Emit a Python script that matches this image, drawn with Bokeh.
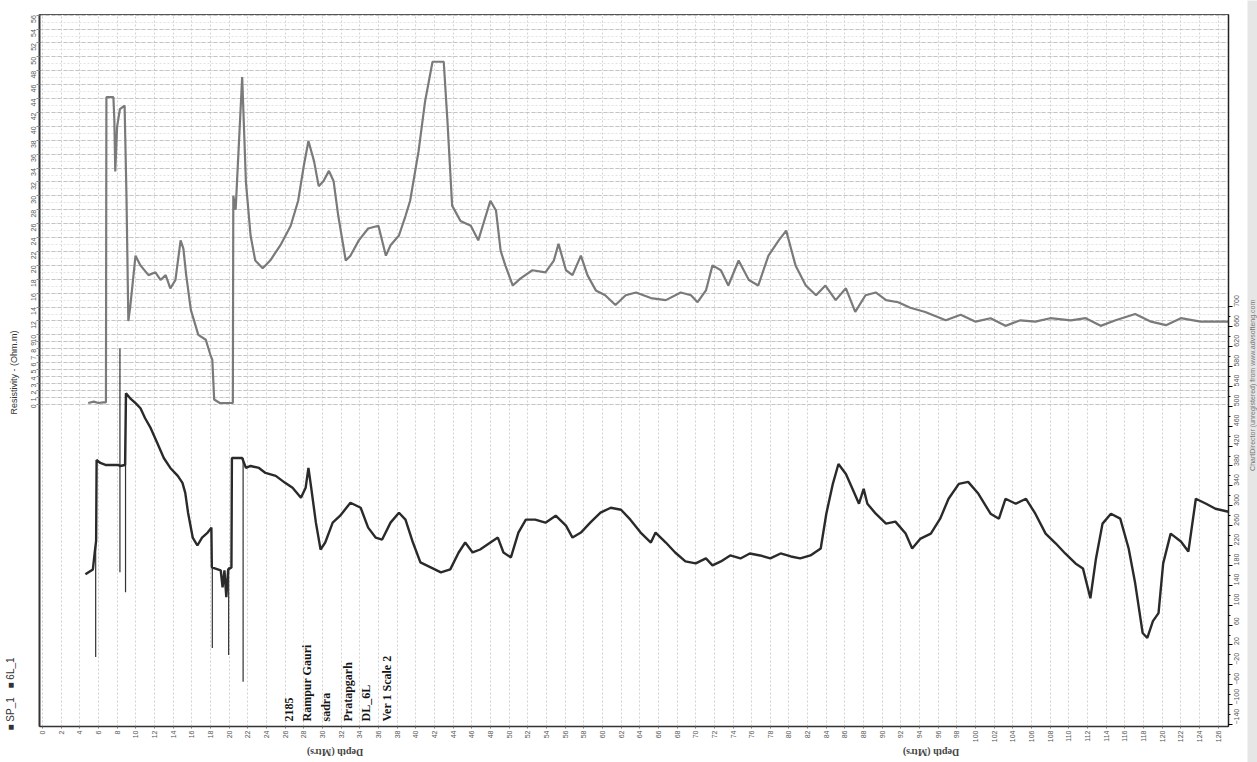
from math import pi
from bokeh.plotting import figure
from bokeh.models import Range1d, LinearAxis, FixedTicker, Label, ColumnDataSource
from bokeh.layouts import row, column
from bokeh.embed import file_html
from bokeh.resources import INLINE

# ---------------- data ----------------
res_depth = [4.9, 5.5, 6.0, 6.5, 6.8, 6.85, 7.6, 7.7, 7.8, 8.0, 8.3, 8.8, 9.0, 9.2, 9.4, 9.97,
             10.5, 11.36, 12.1, 12.65, 13.2, 13.7, 14.25, 14.8, 15.1, 15.4, 15.9, 16.7, 17.5,
             18.0, 18.2, 18.4, 19.0, 20.4, 20.45, 20.7, 21.4, 21.8, 22.3, 22.8, 23.6, 24.4,
             25.5, 26.6, 27.4, 28.0, 28.5, 29.1, 29.6, 30.1, 30.7, 31.2, 31.7, 32.5, 33.0,
             33.9, 34.9, 36.0, 36.8, 37.3, 38.2, 38.9, 39.4, 40.3, 41.0, 41.8, 43.0, 43.4,
             43.9, 44.8, 45.9, 46.7, 47.5, 48.0, 48.6, 49.1, 49.6, 50.4, 51.2, 52.5, 53.9,
             54.8, 55.3, 56.1, 56.8, 57.7, 58.4, 59.3, 60.3, 61.4, 62.5, 63.6, 65.2, 66.8,
             68.4, 69.5, 70.2, 71.1, 71.8, 72.7, 73.5, 74.6, 75.7, 76.7, 77.8, 78.9, 79.7,
             80.7, 81.8, 82.9, 83.9, 85.0, 86.1, 87.1, 88.2, 89.3, 90.4, 91.7, 93.0, 94.6,
             96.8, 98.4, 100.0, 101.6, 103.2, 104.8, 106.4, 108.0, 110.2, 111.8, 113.4,
             115.0, 117.1, 118.8, 120.4, 122.0, 124.1, 127.1]
res_value = [0.2, 0.4, 0.2, 0.3, 0.3, 44.2, 44.2, 41, 33.5, 40, 42.5, 43, 30, 12, 14, 21.4,
             20, 18.6, 19, 17.9, 18.6, 16.7, 17.9, 23.6, 22.4, 18.6, 13.6, 10, 9.3,
             7.1, 6.4, 0.7, 0.2, 0.2, 30, 28, 47.1, 32, 24.3, 20.7, 19.6, 20.7,
             22.9, 25.7, 29.3, 34.3, 37.9, 35, 31.4, 32.1, 33.6, 32.1, 27.1, 20.7, 21.4,
             23.6, 25.3, 25.7, 21.4, 22.9, 24.3, 27.1, 29.3, 36.4, 43.6, 49.3, 49.3, 40.7,
             28.6, 26.4, 25.7, 23.6, 27.1, 29.3, 27.9, 22.1, 20, 17.1, 18.1, 19.3, 19,
             20.7, 23.1, 19.3, 18.6, 21.4, 18.6, 16.4, 15.7, 14.3, 15.7, 16.1, 15.3, 15,
             16.1, 15.7, 14.7, 16.4, 20, 19.3, 17.1, 20.7, 17.9, 17.1, 21.4, 23.6, 25,
             20, 17.1, 15.7, 17.1, 15, 16.7, 13.3, 15.7, 16.1, 15, 14.7, 13.9, 13.3,
             12.1, 12.9, 11.9, 12.4, 11.3, 12.1, 11.9, 12.4, 12.1, 12.4, 11.3,
             12.1, 13, 11.9, 11.4, 12.4, 11.9, 11.9]

sp_depth = [4.6, 5.4, 5.6, 5.75, 5.8, 6.2, 6.75, 8.15, 8.3, 8.85, 8.95, 9.4, 10.0, 10.5, 11.0,
            11.6, 12.3, 13.0, 13.7, 14.5, 15.0, 15.3, 15.6, 16.1, 16.6, 17.1, 17.7, 18.1,
            18.15, 19.1, 19.3, 19.5, 19.7, 19.9, 20.25, 20.3, 21.4, 21.8, 22.3, 23.2, 23.9,
            25.0, 26.0, 26.8, 27.7, 28.2, 28.5, 28.8, 29.3, 29.8, 30.3, 31.1, 31.9, 33.0,
            34.1, 34.9, 35.7, 36.4, 37.3, 38.2, 38.9, 39.7, 40.5, 41.6, 42.7, 43.7, 44.6,
            45.3, 46.1, 46.9, 48.0, 48.8, 49.4, 50.2, 51.0, 51.8, 52.8, 53.9, 55.0, 56.1,
            56.8, 57.7, 58.7, 59.8, 60.9, 62.0, 63.0, 64.1, 65.2, 65.7, 66.8, 67.8, 68.9,
            70.0, 71.1, 71.8, 72.7, 73.7, 74.8, 75.8, 76.9, 78.0, 79.1, 80.2, 81.2, 82.3,
            83.4, 84.0, 84.7, 85.3, 86.1, 86.8, 87.5, 88.0, 88.4, 89.3, 90.4, 91.4, 92.5,
            93.2, 94.1, 95.2, 96.2, 97.1, 98.2, 99.2, 100.3, 101.6, 102.5, 103.2, 104.3,
            105.4, 106.4, 107.5, 108.6, 109.6, 110.7, 111.5, 112.3, 112.9, 113.6, 114.5,
            115.5, 116.4, 117.1, 117.9, 118.4, 119.0, 119.6, 120.1, 120.9, 122.0, 122.8,
            123.6, 124.7, 125.7, 127.1]
sp_value = [162, 172, 206, 230, 392, 386, 382, 382, 380, 382, 526, 516, 506, 496, 476,
            456, 426, 396, 376, 360, 346, 326, 286, 236, 220, 236, 246, 256,
            176, 170, 136, 170, 116, 172, 176, 396, 396, 376, 380, 376, 366,
            360, 346, 336, 316, 336, 376, 336, 266, 212, 226, 266, 280, 306,
            296, 256, 236, 232, 266, 286, 272, 226, 186, 176, 166, 172, 206,
            226, 206, 212, 226, 236, 206, 196, 246, 272, 272, 266, 280, 260,
            236, 246, 266, 286, 296, 292, 272, 246, 226, 246, 226, 206, 188,
            184, 194, 180, 188, 200, 194, 204, 200, 194, 204, 198, 194, 200,
            214, 284, 344, 384, 364, 334, 304, 334, 304, 284, 264, 268, 244,
            214, 234, 244, 274, 314, 344, 348, 324, 284, 274, 314, 304,
            314, 284, 244, 224, 204, 184, 174, 114, 194, 264, 284,
            274, 214, 144, 44, 34, 68, 84, 184, 244, 228, 208,
            314, 304, 294, 288]

# thin SP spikes (depth, top value, bottom value)
spike_depth = [5.7, 8.3, 8.9, 18.2, 19.95, 21.5]
spike_top = [236, 616, 526, 176, 176, 396]
spike_bottom = [-4, 166, 126, 14, 0, -54]

depth_ticks = list(range(0, 127, 2))
res_ticks = list(range(0, 11)) + list(range(12, 57, 2))
res_minor = list(range(0, 57))
sp_ticks = list(range(-140, 701, 40))
sp_minor = list(range(-140, 701, 20))

annot_text = ["2185", "Rampur Gauri", "sadra", "Pratapgarh", "DL_6L", "Ver 1 Scale 2"]
annot_depth = [26.4, 28.3, 30.4, 32.7, 34.7, 36.9]

legend_items = ["SP_1", "6L_1"]

tick_font = "Liberation Sans"

# ---------------- main figure ----------------
p = figure(width=1227, height=745, output_backend="svg", toolbar_location=None,
           x_range=Range1d(-0.32, 127.1), y_range=Range1d(-46.35, 56.1),
           min_border_left=19, min_border_right=19, min_border_top=14, min_border_bottom=15,
           background_fill_color="white", border_fill_color="white")
p.outline_line_color = "#555555"
p.extra_y_ranges = {"sp": Range1d(-144, 1288)}

xa = p.xaxis[0]
xa.ticker = FixedTicker(ticks=depth_ticks)
xa.major_label_orientation = pi / 2
xa.major_label_text_font = tick_font
xa.major_label_text_font_size = "7px"
xa.major_label_text_color = "#555555"
xa.major_label_standoff = 2
xa.major_tick_out = 2
xa.major_tick_in = 0
xa.minor_tick_out = 0
xa.axis_line_color = "#333333"
xa.axis_line_width = 1.5
xa.major_tick_line_color = "#777777"

ya = p.yaxis[0]
ya.ticker = FixedTicker(ticks=res_ticks, minor_ticks=res_minor)
ya.major_label_orientation = pi / 2
ya.major_label_text_font = tick_font
ya.major_label_text_font_size = "7px"
ya.major_label_text_color = "#555555"
ya.major_label_standoff = 3
ya.major_tick_out = 3
ya.major_tick_in = 0
ya.minor_tick_out = 0
ya.minor_tick_in = 0
ya.axis_line_color = "#333333"
ya.axis_line_width = 2
ya.major_tick_line_color = "#888888"

ra = LinearAxis(y_range_name="sp", ticker=FixedTicker(ticks=sp_ticks, minor_ticks=sp_minor))
ra.major_label_orientation = pi / 2
ra.major_label_text_font = tick_font
ra.major_label_text_font_size = "7px"
ra.major_label_text_color = "#555555"
ra.major_label_standoff = 4
ra.major_tick_out = 4
ra.major_tick_in = 0
ra.minor_tick_out = 2
ra.minor_tick_in = 0
ra.axis_line_color = "#222222"
ra.axis_line_width = 1.5
p.add_layout(ra, "right")

p.xgrid[0].ticker = xa.ticker
p.xgrid[0].grid_line_color = "#d2d2d2"
p.xgrid[0].grid_line_dash = "2 2"
p.xgrid[0].grid_line_width = 1

p.ygrid[0].ticker = ya.ticker
p.ygrid[0].grid_line_color = "#c4c4c4"
p.ygrid[0].grid_line_dash = "4 2"
p.ygrid[0].minor_grid_line_color = "#e2e2e2"
p.ygrid[0].minor_grid_line_dash = "2 2"

res_src = ColumnDataSource(dict(depth=res_depth, value=res_value))
sp_src = ColumnDataSource(dict(depth=sp_depth, value=sp_value))
spike_src = ColumnDataSource(dict(depth=spike_depth, top=spike_top, bottom=spike_bottom))

p.line("depth", "value", source=res_src, line_color="#7a7a7a", line_width=2.2)
p.segment(x0="depth", y0="top", x1="depth", y1="bottom", source=spike_src,
          y_range_name="sp", line_color="#333333", line_width=1.2)
p.line("depth", "value", source=sp_src, y_range_name="sp", line_color="#2a2a2a", line_width=2.4)

for t, d in zip(annot_text, annot_depth):
    p.add_layout(Label(x=d, y=5, x_units="data", y_units="screen", text=t, angle=pi / 2,
                       text_align="left", text_baseline="middle",
                       text_font="Liberation Serif", text_font_style="bold",
                       text_font_size="12px", text_color="#151515"))

# ---------------- left strip: axis title + legend ----------------
lf = figure(width=20, height=762, output_backend="svg", toolbar_location=None,
            x_range=Range1d(0, 20), y_range=Range1d(0, 762), min_border=0,
            x_axis_location=None, y_axis_location=None,
            background_fill_color="white", border_fill_color="white")
lf.grid.visible = False
lf.outline_line_color = None
lf.add_layout(Label(x=13, y=390, text="Resistivity - (Ohm.m)", angle=pi / 2,
                    text_align="center", text_baseline="middle", text_font=tick_font,
                    text_font_size="9px", text_color="#333333"))
for item, ys in zip(legend_items, [32, 74]):
    lf.add_layout(Label(x=10, y=ys, text="\u25A0 " + item, angle=pi / 2, text_align="left",
                        text_baseline="middle", text_font=tick_font, text_font_size="10px",
                        text_color="#333333"))

# ---------------- bottom strip: depth titles (upside down as in the scan) ----------------
bf = figure(width=1227, height=17, output_backend="svg", toolbar_location=None,
            x_range=Range1d(0, 1227), y_range=Range1d(0, 17), min_border=0,
            x_axis_location=None, y_axis_location=None,
            background_fill_color="white", border_fill_color="white")
bf.grid.visible = False
bf.outline_line_color = None
for xs in [305, 920]:
    bf.add_layout(Label(x=xs, y=10, text="Depth (Mtrs)", angle=pi, text_align="center",
                        text_baseline="middle", text_font="Liberation Serif",
                        text_font_style="bold", text_font_size="10px", text_color="#444444"))

# ---------------- right strip: watermark ----------------
s = figure(width=10, height=762, output_backend="svg", toolbar_location=None,
           x_range=Range1d(0, 1), y_range=Range1d(0, 1), min_border=0,
           x_axis_location=None, y_axis_location=None,
           background_fill_color="#e6e6e6", border_fill_color="#e6e6e6")
s.grid.visible = False
s.outline_line_color = None
s.add_layout(Label(x=0.5, y=0.495, text="ChartDirector (unregistered) from www.advsofteng.com",
                   angle=pi / 2, text_align="center", text_baseline="middle",
                   text_font=tick_font, text_font_size="7px", text_color="#777777"))

layout = row(lf, column(p, bf), s)
open("out.html", "w").write(file_html(layout, INLINE))
